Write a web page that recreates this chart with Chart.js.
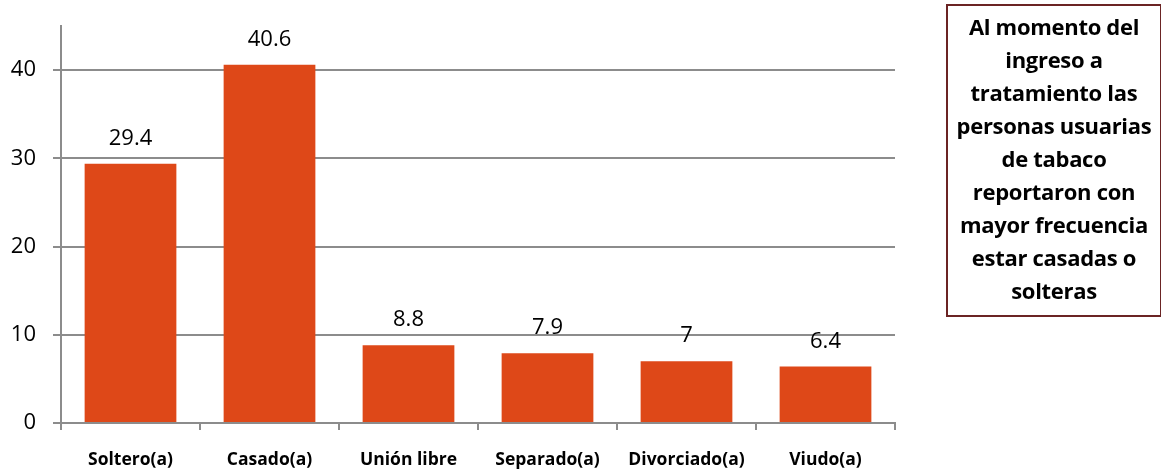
<!DOCTYPE html>
<html>
<head>
<meta charset="utf-8">
<script src="https://cdn.jsdelivr.net/npm/chart.js@4"></script>
<style>
  body { margin: 0; background: #fff; }
  #wrap { position: absolute; left: 0; top: 0; width: 1161px; height: 469px; }
  #nota {
    position: absolute; left: 946px; top: 4px; width: 212px; height: 305px;
    border: 2px solid #6b2424; box-sizing: content-box; white-space: nowrap;
    font-family: "Open Sans", sans-serif; font-weight: bold; font-size: 22px;
    line-height: 33px; text-align: center; color: #000; padding-top: 4px;
    letter-spacing: -0.3px;
  }
</style>
</head>
<body>
<div id="wrap"><canvas id="grafico" width="1161" height="469"></canvas></div>
<div id="nota">Al momento del<br>ingreso a<br>tratamiento las<br>personas usuarias<br>de tabaco<br>reportaron con<br>mayor frecuencia<br>estar casadas o<br>solteras</div>
<script>
const categorias = ["Soltero(a)", "Casado(a)", "Unión libre", "Separado(a)", "Divorciado(a)", "Viudo(a)"];
const valores = [29.4, 40.6, 8.8, 7.9, 7, 6.4];
const marcasY = [0, 10, 20, 30, 40];

const gris = "#8c8c8c";

// etiquetas encima de cada barra
const etiquetas = {
  id: "etiquetas",
  afterDatasetsDraw(chart) {
    const ctx = chart.ctx;
    const meta = chart.getDatasetMeta(0);
    ctx.save();
    ctx.font = "22px 'Open Sans'";
    ctx.fillStyle = "#000";
    ctx.textAlign = "center";
    ctx.textBaseline = "alphabetic";
    meta.data.forEach(function (bar, i) {
      ctx.fillText(String(valores[i]), bar.x, bar.y - 19);
    });
    ctx.restore();
  }
};

function sinPadding(scale) {
  scale.paddingTop = 0;
  scale.paddingBottom = 0;
  scale.paddingLeft = 0;
  scale.paddingRight = 0;
}

const ctx = document.getElementById("grafico").getContext("2d");
new Chart(ctx, {
  type: "bar",
  data: {
    labels: categorias,
    datasets: [{
      data: valores,
      backgroundColor: "#de4818",
      categoryPercentage: 1,
      barPercentage: 0.66
    }]
  },
  options: {
    responsive: false,
    animation: false,
    layout: { padding: { top: 26, right: 266, left: 0, bottom: 0 } },
    plugins: { legend: { display: false }, tooltip: { enabled: false } },
    scales: {
      x: {
        offset: true,
        grid: { offset: true, drawOnChartArea: false, color: gris, lineWidth: 2, tickLength: 7 },
        border: { color: gris, width: 2 },
        ticks: {
          color: "#000",
          padding: 20,
          maxRotation: 0,
          font: { family: "Open Sans", size: 17.5, weight: "bold" }
        },
        afterFit: function (scale) { scale.height = 46; sinPadding(scale); }
      },
      y: {
        min: 0,
        max: 45,
        grid: { color: gris, lineWidth: 2, tickLength: 8 },
        border: { color: gris, width: 2 },
        ticks: {
          stepSize: 10,
          color: "#000",
          padding: 17,
          font: { family: "Open Sans", size: 22 }
        },
        afterBuildTicks: function (scale) {
          scale.ticks = marcasY.map(function (v) { return { value: v }; });
        },
        afterFit: function (scale) { scale.width = 61; sinPadding(scale); }
      }
    }
  },
  plugins: [etiquetas]
});
</script>
</body>
</html>
